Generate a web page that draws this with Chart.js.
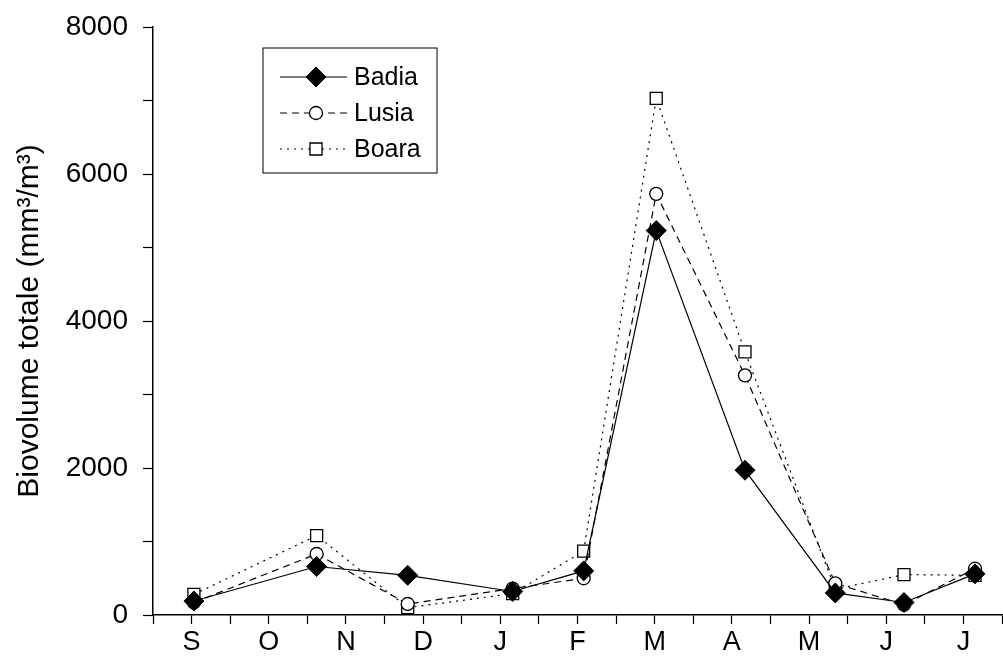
<!DOCTYPE html>
<html>
<head>
<meta charset="utf-8">
<script src="https://cdn.jsdelivr.net/npm/chart.js@4.4.1/dist/chart.umd.min.js"></script>
<style>
  html, body { margin: 0; padding: 0; background: #fff; }
  #wrap { width: 1003px; height: 656px; }
</style>
</head>
<body>
<div id="wrap"><canvas id="bioChart" width="1003" height="656"></canvas></div>
<script>
const months = ['S', 'O', 'N', 'D', 'J', 'F', 'M', 'A', 'M', 'J', 'J'];
// sampling dates, in months from September
const sampleX = [0.03, 1.62, 2.80, 4.16, 5.08, 6.02, 7.17, 8.34, 9.23, 10.15];
const badia = [190, 660, 540, 320, 600, 5230, 1970, 300, 170, 560];
const lusia = [170, 830, 150, 360, 500, 5730, 3260, 430, 140, 630];
const boara = [280, 1080, 100, 290, 870, 7030, 3580, 350, 550, 540];
const yTicks = [0, 2000, 4000, 6000, 8000];

const FONT = '"Liberation Sans", Arial, sans-serif';

function toPoints(vals) {
    return vals.map((v, i) => ({ x: sampleX[i], y: v }));
}

// legend box drawn inside the plot, like the original figure
const boxLegend = {
    id: 'boxLegend',
    afterDatasetsDraw(chart, args, opts) {
        const ctx = chart.ctx;
        ctx.save();
        ctx.strokeStyle = '#000';
        ctx.lineWidth = 1;
        ctx.strokeRect(opts.x, opts.y, opts.w, opts.h);
        ctx.font = '25px ' + FONT;
        ctx.textBaseline = 'middle';
        chart.data.datasets.forEach((ds, i) => {
            const y = opts.y + opts.first + i * opts.gap;
            ctx.beginPath();
            ctx.strokeStyle = '#000';
            ctx.setLineDash(ds.borderDash || []);
            ctx.lineWidth = ds.borderWidth;
            ctx.moveTo(opts.x + 17, y);
            ctx.lineTo(opts.x + 84, y);
            ctx.stroke();
            ctx.setLineDash([]);
            ctx.fillStyle = ds.pointBackgroundColor;
            ctx.lineWidth = ds.pointBorderWidth;
            Chart.helpers.drawPoint(ctx, {
                pointStyle: ds.pointStyle,
                radius: ds.pointRadius,
                rotation: 0,
                borderWidth: ds.pointBorderWidth
            }, opts.x + 53, y);
            ctx.fillStyle = '#000';
            ctx.fillText(ds.label, opts.x + 91, y + 1);
        });
        ctx.restore();
    }
};

const ctx = document.getElementById('bioChart').getContext('2d');
const chart = new Chart(ctx, {
    type: 'line',
    data: {
        datasets: [
            {
                label: 'Badia',
                data: toPoints(badia),
                borderColor: '#000',
                borderWidth: 1.2,
                pointStyle: 'rectRot',
                pointRadius: 10,
                pointBackgroundColor: '#000',
                pointBorderColor: '#000',
                pointBorderWidth: 1
            },
            {
                label: 'Lusia',
                data: toPoints(lusia),
                borderColor: '#000',
                borderWidth: 1.2,
                borderDash: [7, 5],
                pointStyle: 'circle',
                pointRadius: 6.5,
                pointBackgroundColor: '#fff',
                pointBorderColor: '#000',
                pointBorderWidth: 1.3
            },
            {
                label: 'Boara',
                data: toPoints(boara),
                borderColor: '#000',
                borderWidth: 1.2,
                borderDash: [2, 5],
                pointStyle: 'rect',
                pointRadius: 8.5,
                pointBackgroundColor: '#fff',
                pointBorderColor: '#000',
                pointBorderWidth: 1.3
            }
        ]
    },
    options: {
        responsive: false,
        animation: false,
        layout: { autoPadding: false, padding: { top: 27, right: 1, left: 0, bottom: 0 } },
        plugins: {
            legend: { display: false },
            tooltip: { enabled: false },
            boxLegend: { x: 263, y: 48, w: 174, h: 125, first: 29, gap: 36 }
        },
        scales: {
            x: {
                type: 'linear',
                min: -0.5,
                max: 10.5,
                afterFit: s => {
                    s.height = 41;
                    s.paddingLeft = 0;
                    s.paddingRight = 0;
                },
                border: { display: true, color: '#000', width: 1.5 },
                grid: { drawOnChartArea: false, tickLength: 9, color: '#000', tickWidth: 1.2 },
                ticks: {
                    stepSize: 0.5,
                    autoSkip: false,
                    maxRotation: 0,
                    padding: 2,
                    color: '#000',
                    font: { family: FONT, size: 27 },
                    callback: v => {
                        const r = Math.round(v);
                        return Math.abs(v - r) < 1e-6 ? months[r] : '';
                    }
                }
            },
            y: {
                min: 0,
                max: 8000,
                afterFit: s => {
                    s.width = 153;
                    s.paddingTop = 0;
                    s.paddingBottom = 0;
                },
                border: { display: true, color: '#000', width: 1.5 },
                grid: { drawOnChartArea: false, tickLength: 10, color: '#000', tickWidth: 1.2 },
                title: {
                    display: true,
                    text: 'Biovolume totale (mm³/m³)',
                    color: '#000',
                    font: { family: FONT, size: 30 },
                    padding: { top: 12, bottom: 0 }
                },
                ticks: {
                    stepSize: 1000,
                    padding: 15,
                    color: '#000',
                    font: { family: FONT, size: 28 },
                    callback: v => yTicks.includes(v) ? String(v) : ''
                }
            }
        }
    },
    plugins: [boxLegend]
});
</script>
</body>
</html>
